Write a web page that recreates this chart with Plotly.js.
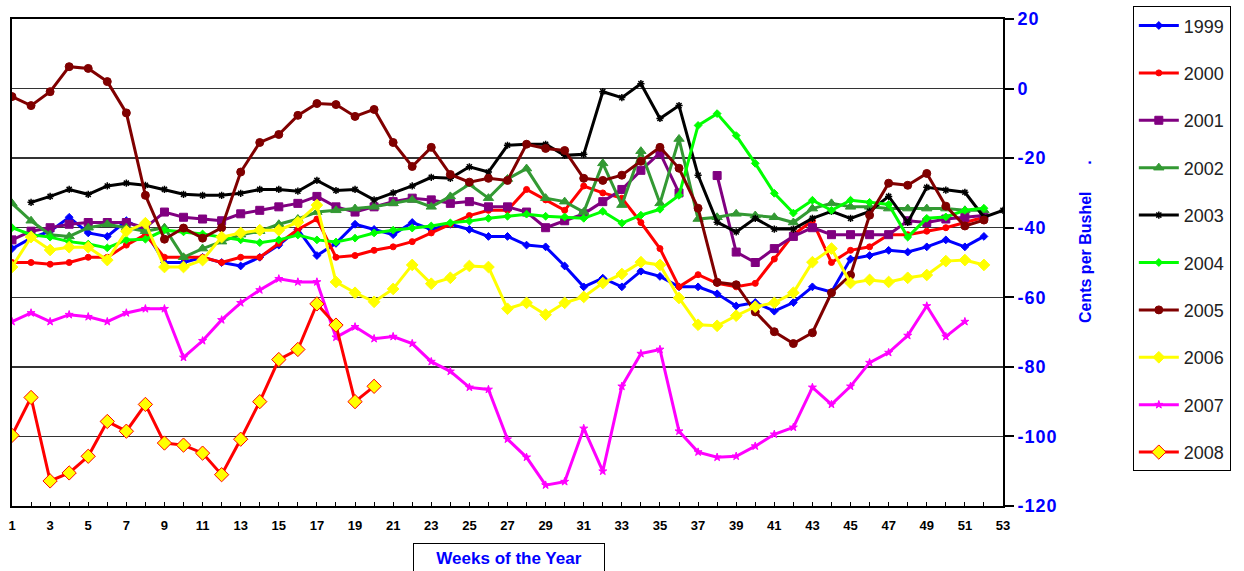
<!DOCTYPE html>
<html>
<head>
<meta charset="utf-8">
<script src="https://cdn.plot.ly/plotly-3.0.1.min.js"></script>
<style>
html,body{margin:0;padding:0;background:#fff;}
#chart{width:1244px;height:571px;}
#chart .ytick text{letter-spacing:1px;}
</style>
</head>
<body>
<div id="chart"></div>
<script>
const weeks = [1,2,3,4,5,6,7,8,9,10,11,12,13,14,15,16,17,18,19,20,21,22,23,24,25,26,27,28,29,30,31,32,33,34,35,36,37,38,39,40,41,42,43,44,45,46,47,48,49,50,51,52,53];
const xTickWeeks = [1,3,5,7,9,11,13,15,17,19,21,23,25,27,29,31,33,35,37,39,41,43,45,47,49,51,53];
const yTickVals = [20,0,-20,-40,-60,-80,-100,-120];
const yTickText = ['20','0','-20','-40','-60','-80','-100','-120'];
const years = ['1999','2000','2001','2002','2003','2004','2005','2006','2007','2008'];

const s1999 = [-46,-43,-41,-37,-41.5,-42.5,-38,-41,-50,-50,-48.5,-50,-51,-48.5,-45,-40.5,-48,-44.5,-39,-40.5,-42,-38.5,-40.5,-39,-40.5,-42.5,-42.5,-45,-45.5,-51,-57,-54.5,-57,-52.5,-54,-57,-57,-59,-62.5,-61.5,-64,-61.5,-57,-58.5,-49,-48,-46.5,-47,-45.5,-43.5,-45.5,-42.5];
const s2000 = [-50,-50,-50.5,-50,-48.5,-48.5,-45,-42,-48.5,-48.5,-48.5,-50,-48.5,-48.5,-44.5,-40.5,-37.5,-48.5,-48,-46.5,-45.5,-44,-41.5,-39,-36.5,-35,-35,-29,-32,-35,-28,-30,-31.5,-38.5,-46,-57,-53.5,-56,-57,-56,-49,-42,-38,-50,-46.5,-45.5,-42,-42,-41,-40,-38.5,-37];
const s2001 = [-43.5,-41,-40,-39,-38.5,-38.5,-38.5,-40,-35.5,-37,-37.5,-38,-36,-35,-34,-33,-31,-34,-35.5,-34,-32.5,-31.5,-32,-33,-32.5,-34,-34,-35.5,-40,-38,-36,-32.5,-29,-23.5,-18.5,-30,null,-25,-47,-50,-46,-42.5,-40,-42,-42,-42,-42,-38,-38.5,-37.5,-37,-36.5];
const s2002 = [-33,-38,-42,-42.5,-40,-39,-40,-41,-40,-48.5,-46,-44,-42,-41,-39,-37.5,-35.5,-35,-34.5,-34,-33,-32,-34,-31,-27.5,-31.5,-26,-23,-31.5,-32.5,-35.5,-21.5,-33.5,-18,-33,-14.5,-37.5,-37,-36,-36.5,-37,-38.5,-34.5,-33,-34,-34,-34.5,-34.5,-34.5,-34.5,-35,-35];
const s2003 = [null,-32.7,-31,-29,-30.4,-28,-27.2,-27.8,-29,-30.4,-30.7,-30.7,-30.1,-29,-29,-29.5,-26.4,-29.3,-29,-32,-30,-28,-25.5,-25.8,-22.5,-24,-16.3,-16,-16,-19.2,-18.9,-0.9,-2.6,1.4,-8.6,-4.9,-24.9,-38.4,-41.2,-37.3,-40.4,-40.4,-37.3,-35.3,-37.3,-35.3,-31,-38.5,-28.4,-29.2,-29.8,-37,-35];
const s2004 = [-40,-42,-42.7,-44,-44.7,-45.8,-43.5,-43.3,-40.7,-41.2,-41.8,-42.7,-43.5,-44.3,-43.5,-42.1,-43.5,-44.1,-43,-41.5,-40.7,-40.1,-39.5,-38.6,-38.1,-37.3,-36.7,-36.1,-36.7,-36.9,-37.3,-35.3,-38.7,-36.4,-34.7,-30.7,-10.6,-7.2,-13.5,-21.5,-30.1,-35.8,-32.1,-35,-32.1,-32.7,-33.3,-42.7,-37.3,-36.9,-35,-34.4];
const s2005 = [-2.3,-4.9,-0.9,6.3,5.8,2,-7,-30.7,-43.3,-40.1,-43,-40,-24,-15.5,-13.2,-7.7,-4.3,-4.6,-8,-6,-15.5,-22.4,-16.9,-24.7,-26.9,-25.8,-26.4,-16,-17.2,-17.8,-25.8,-26.4,-24.9,-20.9,-16.9,-22.9,-34.4,-55.7,-56.4,-64.2,-69.9,-73.3,-70.2,-58.7,-53.6,-36.4,-27.2,-27.8,-24.4,-33.8,-39.5,-37.8];
const s2006 = [-51.3,-42.7,-46.4,-45.6,-45.6,-49.3,-41,-38.7,-51.3,-51.3,-49.3,-42.7,-41.5,-40.7,-40.7,-38.4,-33.5,-55.6,-58.7,-61.3,-57.6,-50.7,-56.1,-54.4,-51,-51.3,-63.3,-61.6,-65,-61.6,-59.9,-55.9,-53.3,-49.9,-50.7,-60.2,-67.9,-68.2,-65.3,-62.7,-61.6,-58.7,-49.9,-46,-55.9,-55,-55.6,-54.4,-53.6,-49.6,-49.3,-50.7];
const s2007 = [-67,-64.5,-67,-65,-65.6,-67,-64.5,-63.3,-63.3,-77.3,-72.5,-66.5,-61.6,-57.9,-54.7,-55.6,-55.6,-71.5,-68.5,-71.9,-71.3,-73.3,-78.5,-81.3,-85.9,-86.5,-100.8,-106,-114,-113,-97.7,-110,-85.6,-76.2,-75,-98.5,-104.5,-106,-105.7,-102.8,-99.4,-97.4,-85.9,-90.8,-85.6,-78.8,-75.9,-71,-62.5,-71.3,-67];
const s2008 = [-99.7,-88.8,-112.8,-110.5,-105.7,-95.7,-98.5,-90.8,-101.9,-102.5,-104.8,-111,-100.8,-90,-77.9,-75,-61.9,-68,-90,-85.6];

const seriesData = [s1999,s2000,s2001,s2002,s2003,s2004,s2005,s2006,s2007,s2008];
const lineColors = ['#0000FF','#FF0000','#800080','#339933','#000000','#00FF00','#800000','#FFFF00','#FF00FF','#FF0000'];
const markerSymbols = ['diamond','circle','square','triangle-up','asterisk-open','diamond','circle','diamond','star','diamond'];
const markerSizes = [6,6,8,9,6,6,8,9,6,11];
const markerFill = ['#0000FF','#FF0000','#800080','#339933','#000000','#00FF00','#800000','#FFFF00','#FF00FF','#FFFF00'];
const markerLine = ['#0000FF','#FF0000','#800080','#339933','#000000','#00FF00','#800000','#FFFF00','#FF00FF','#FF0000'];

const traces = seriesData.map((arr, i) => ({
  type: 'scatter',
  mode: 'lines+markers',
  name: years[i],
  legendgroup: years[i],
  x: weeks.slice(0, arr.length),
  y: arr,
  connectgaps: false,
  line: {color: lineColors[i], width: 3},
  marker: {symbol: markerSymbols[i], size: markerSizes[i], color: markerFill[i],
           line: {color: markerLine[i], width: (i === 4 ? 1.5 : 1)}}
}));

const F = 'Arial, "Liberation Sans", sans-serif';
const layout = {
  width: 1244, height: 571,
  margin: {l: 12, r: 241, t: 19, b: 65, autoexpand: false},
  paper_bgcolor: '#fff', plot_bgcolor: '#fff',
  showlegend: true,
  legend: {
    x: 1.131, xanchor: 'left',
    yref: 'container', y: 0.989, yanchor: 'top',
    maxheight: 565,
    bordercolor: '#000', borderwidth: 1, bgcolor: '#fff',
    font: {family: F, size: 18, color: '#222'},
    itemwidth: 40,
    traceorder: 'grouped', tracegroupgap: 21
  },
  xaxis: {
    range: [1, 53], tickvals: xTickWeeks, ticktext: xTickWeeks.map(String),
    ticks: 'inside', ticklen: 4, tickcolor: '#000', tickwidth: 1,
    minor: {dtick: 1, tick0: 1, ticks: 'inside', ticklen: 4, tickcolor: '#000'},
    showgrid: false, zeroline: false,
    showline: true, linecolor: '#000', linewidth: 2, mirror: true,
    tickfont: {family: F, size: 13, color: '#000', weight: 'bold'},
    ticklabelstandoff: 6
  },
  yaxis: {
    side: 'right', range: [-120, 20], tickvals: yTickVals, ticktext: yTickText,
    ticks: 'outside', ticklen: 9, tickwidth: 2, tickcolor: '#000',
    showgrid: true, gridcolor: '#333', gridwidth: 1.5, zeroline: false,
    showline: true, linecolor: '#000', linewidth: 2, mirror: true,
    tickfont: {family: F, size: 18, color: '#0000FF', weight: 'bold'}
  },
  annotations: [
    {text: 'Weeks of the Year', xref: 'paper', yref: 'paper', x: 0.5015, y: -0.1068,
     xanchor: 'center', yanchor: 'middle', showarrow: false, width: 190, height: 28,
     bordercolor: '#000', borderwidth: 1, borderpad: 0, bgcolor: '#fff',
     font: {family: F, size: 17, color: '#0000FF', weight: 'bold'}},
    {text: 'Cents per Bushel\u00A0\u00A0\u00A0\u00A0\u00A0\u00A0.', xref: 'paper', yref: 'paper', x: 1.0827, y: 0.544,
     xanchor: 'center', yanchor: 'middle', showarrow: false, textangle: -90,
     font: {family: F, size: 16, color: '#0000FF', weight: 'bold'}}
  ]
};

Plotly.newPlot('chart', traces, layout, {displayModeBar: false, staticPlot: true});
</script>
</body>
</html>
